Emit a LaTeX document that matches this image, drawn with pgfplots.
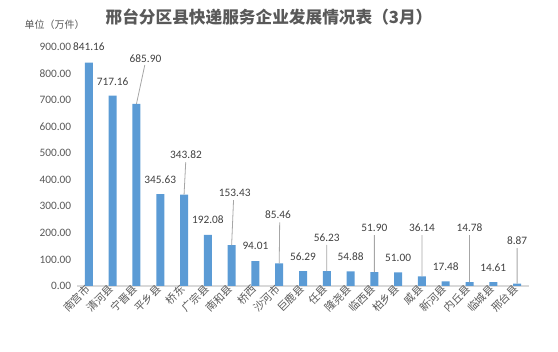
\documentclass[border=0pt]{standalone}
\usepackage{pgfplots}
\pgfplotsset{compat=1.18}
\usepackage{fontspec}
\setmainfont{Carlito}
\newfontfamily\cjk{Noto Sans CJK SC}
\definecolor{barblue}{HTML}{5B9BD5}
\definecolor{txtgray}{HTML}{595959}
\definecolor{lblgray}{HTML}{404040}
\definecolor{axgray}{HTML}{D9D9D9}
\definecolor{leadgray}{HTML}{A6A6A6}
\begin{document}
\begin{tikzpicture}
\useasboundingbox (0pt,0pt) rectangle (418.5pt,264pt);
\node[font=\cjk\bfseries\fontsize{12.5}{14}\selectfont, text=txtgray] at (201.75pt,251.25pt) {邢台分区县快递服务企业发展情况表（3月）};
\node[font=\cjk\fontsize{7.5}{9}\selectfont, text=txtgray, anchor=west] at (15pt,245.25pt) {单位（万件）};
\begin{axis}[
  at={(57.75pt,49.5pt)}, anchor=south west,
  scale only axis, width=339pt, height=179.25pt,
  xmin=-0.5, xmax=18.5, ymin=0, ymax=900,
  axis y line=none,
  axis x line*=bottom,
  x axis line style={axgray, line width=0.8pt, -},
  xtick={0,...,18},
  xticklabels={南宫市,清河县,宁晋县,平乡县,桥东,广宗县,南和县,桥西,沙河市,巨鹿县,任县,隆尧县,临西县,柏乡县,威县,新河县,内丘县,临城县,邢台县},
  x tick label style={font=\cjk\fontsize{8}{9}\selectfont, text=txtgray, rotate=45, anchor=east, inner sep=1pt},
  major tick length=0pt,
  clip=false,
]
\addplot[ybar, bar width=6pt, fill=barblue, draw=none] coordinates {
(0,841.16) (1,717.16) (2,685.90) (3,345.63) (4,343.82) (5,192.08) (6,153.43) (7,94.01) (8,85.46) (9,56.29) (10,56.23) (11,54.88) (12,51.90) (13,51.00) (14,36.14) (15,17.48) (16,14.78) (17,14.61) (18,8.87)};
% y tick labels (axis line hidden)
\addplot[only marks, mark=none, nodes near coords, point meta=explicit symbolic,
  nodes near coords style={anchor=east, font=\fontsize{8.5}{10}\selectfont, text=txtgray}]
  table[meta=lab] {
x y lab
-0.55 0 0.00
-0.55 100 100.00
-0.55 200 200.00
-0.55 300 300.00
-0.55 400 400.00
-0.55 500 500.00
-0.55 600 600.00
-0.55 700 700.00
-0.55 800 800.00
-0.55 900 900.00
};
% leader lines
\addplot[leadgray, line width=0.6pt, no marks, unbounded coords=jump] coordinates {
(2,685.90) (2.35,832) (2,nan)
(4,343.82) (4.07,466) (4,nan)
(6,153.43) (6.08,323) (6,nan)
(8,85.46) (8.02,240) (8,nan)
(10,56.23) (10,155) (10,nan)
(12,51.90) (12,192) (12,nan)
(14,36.14) (14,192) (14,nan)
(16,14.78) (16,192) (16,nan)
(18,8.87) (18,143)};
% data labels
\addplot[only marks, mark=none, nodes near coords, point meta=explicit symbolic,
  nodes near coords style={anchor=center, font=\fontsize{8.5}{10}\selectfont, text=lblgray}]
  table[meta=lab] {
x y lab
0 900 841.16
1 768 717.16
2.38 856 685.90
3 399 345.63
4.08 493 343.82
5 248 192.08
6.13 350 153.43
7 151 94.01
7.95 267 85.46
9 109 56.29
10 181 56.23
11 109 54.88
12 218 51.90
13 105 51.00
14 218 36.14
15 72 17.48
16 218 14.78
17 68 14.61
18 169 8.87
};
\end{axis}
\end{tikzpicture}
\end{document}
